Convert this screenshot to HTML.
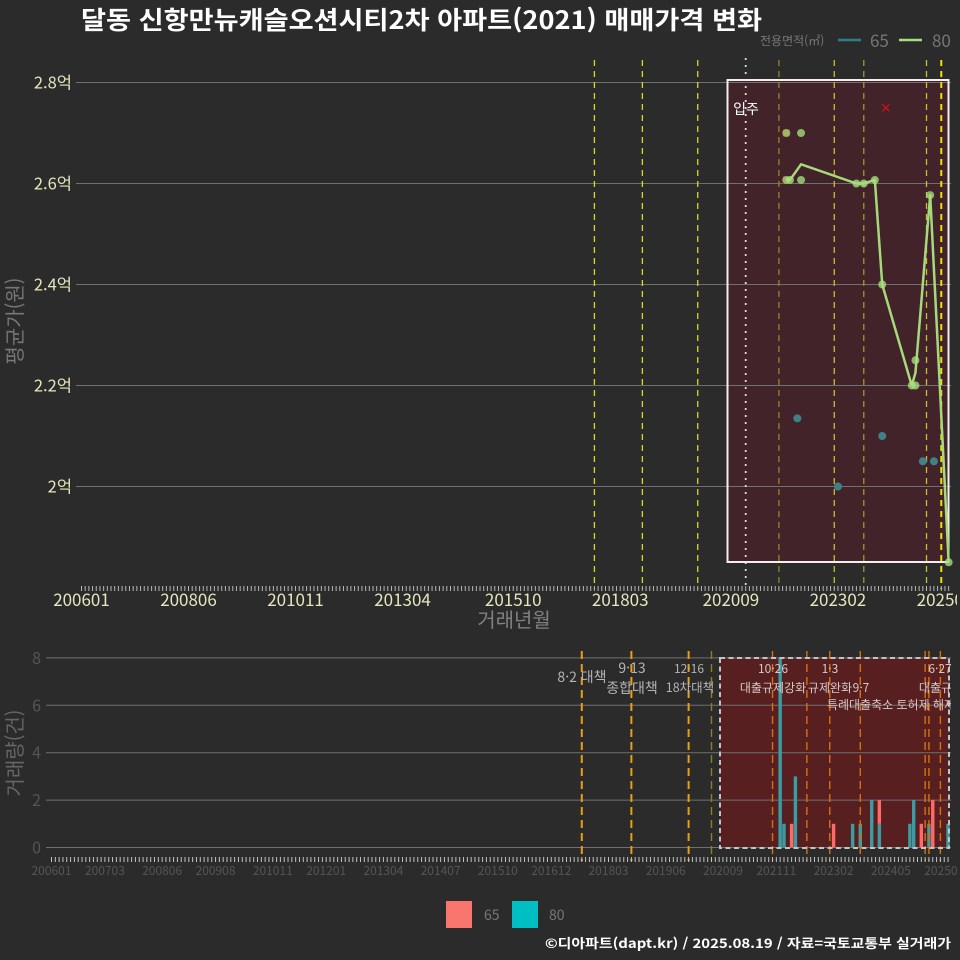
<!DOCTYPE html>
<html lang="ko">
<head>
<meta charset="utf-8">
<title>달동 신항만뉴캐슬오션시티2차 아파트(2021) 매매가격 변화</title>
<style>
html,body{margin:0;padding:0;background:#2b2b2b;}
svg{display:block;font-family:"Liberation Sans","Noto Sans CJK KR",sans-serif;}
text{font-family:"Noto Sans CJK KR","NanumGothic",sans-serif;}
</style>
</head>
<body>
<svg id="chart" xmlns="http://www.w3.org/2000/svg" width="960" height="960" viewBox="0 0 960 960">
  <defs>
    <clipPath id="lower-clip"><rect x="0" y="640" width="951" height="230"/></clipPath>
    <clipPath id="axis-clip"><rect x="0" y="570" width="957" height="320"/></clipPath>
  </defs>
  <rect x="0" y="0" width="960" height="960" fill="#2b2b2b"/>
  <text x="81" y="29" font-size="25" font-weight="700" fill="#ffffff" textLength="681" lengthAdjust="spacingAndGlyphs">달동 신항만뉴캐슬오션시티2차 아파트(2021) 매매가격 변화</text>

  <g>
    <text x="760" y="45" font-size="12" fill="#777777">전용면적(㎡)</text>
    <line x1="838" x2="861" y1="40" y2="40" stroke="#2c7f85" stroke-width="2.5"/>
    <text x="870" y="47" font-size="17" fill="#777777">65</text>
    <line x1="899" x2="922" y1="40" y2="40" stroke="#a6e07c" stroke-width="2.5"/>
    <text x="932" y="47" font-size="17" fill="#777777">80</text>
  </g>

  <rect x="727.5" y="80" width="221" height="482" fill="#412329"/>
  <rect x="720" y="658" width="229" height="190" fill="#571f20"/>

  <g id="top-grid"></g>
  <g id="bottom-grid"></g>
  <g id="top-policy"></g>
  <g id="bottom-bars"></g>
  <g id="bottom-policy"></g>

  <rect x="727.5" y="80" width="221" height="482" fill="none" stroke="#f4eeee" stroke-width="2"/>
  <rect x="720" y="658" width="229" height="190" fill="none" stroke="#c4c4c4" stroke-width="2" stroke-dasharray="5 3.5"/>

  <g id="top-marks"></g>
  <g id="top-axis" clip-path="url(#axis-clip)"></g>
  <g id="bottom-axis" clip-path="url(#axis-clip)"></g>

  <text x="746" y="114" font-size="14" fill="#ffffff" text-anchor="middle">입주</text>

  <text transform="translate(22,321) rotate(-90)" font-size="20" fill="#777777" text-anchor="middle">평균가(원)</text>
  <text x="514" y="627" font-size="20" fill="#808080" text-anchor="middle">거래년월</text>
  <text transform="translate(22,753) rotate(-90)" font-size="20" fill="#666666" text-anchor="middle">거래량(건)</text>

  <g clip-path="url(#lower-clip)" fill="#b4b4b4" text-anchor="middle">
    <text x="582" y="682" font-size="14">8·2 대책</text>
    <text x="632" y="673" font-size="14">9·13</text>
    <text x="632" y="693" font-size="14">종합대책</text>
    <text x="689" y="673" font-size="12">12·16</text>
    <text x="690" y="692" font-size="12.5">18차대책</text>
    <text x="773" y="673" font-size="12" fill="#d8c8c8">10·26</text>
    <text x="773" y="692" font-size="12" fill="#d8c8c8">대출규제강화</text>
    <text x="830" y="673" font-size="12" fill="#d8c8c8">1·3</text>
    <text x="830" y="692" font-size="12" fill="#d8c8c8">규제완화</text>
    <text x="861" y="692" font-size="12" fill="#d8c8c8">9·7</text>
    <text x="891" y="709" font-size="12" fill="#d8c8c8">특례대출축소 토허제 해제</text>
    <text x="940" y="673" font-size="12" fill="#d8c8c8">6·27</text>
    <text x="941" y="692" font-size="12" fill="#d8c8c8">대출규제</text>
  </g>

  <g>
    <rect x="446" y="901" width="26" height="27" fill="#f8766d"/>
    <text x="484" y="920" font-size="14" fill="#777777">65</text>
    <rect x="512" y="901" width="26" height="27" fill="#00bfc4"/>
    <text x="549" y="920" font-size="14" fill="#777777">80</text>
  </g>
  <text x="951" y="948" font-size="13" font-weight="700" fill="#ffffff" text-anchor="end" textLength="406" lengthAdjust="spacingAndGlyphs">©디아파트(dapt.kr) / 2025.08.19 / 자료=국토교통부 실거래가</text>
</svg>
<script>
const priceTickValues = [2.8, 2.6, 2.4, 2.2, 2.0];
const priceTickLabels = ['2.8억', '2.6억', '2.4억', '2.2억', '2억'];
const volumeTickValues = [8, 6, 4, 2, 0];
const volumeTickLabels = ['8', '6', '4', '2', '0'];
const topMonthLabels = ['200601', '200806', '201011', '201304', '201510', '201803', '202009', '202302', '202507'];
const bottomMonthLabels = ['200601', '200703', '200806', '200908', '201011', '201201', '201304', '201407', '201510', '201612', '201803', '201906', '202009', '202111', '202302', '202405', '202507'];

const points65Months = ['202203', '202302', '202402', '202501', '202504'];
const points65Prices = [2.135, 2.0, 2.10, 2.05, 2.05];
const points80Months = ['202112', '202112', '202201', '202204', '202204', '202307', '202309', '202312', '202402', '202410', '202411', '202411', '202503', '202508'];
const points80Prices = [2.70, 2.607, 2.607, 2.70, 2.607, 2.60, 2.60, 2.607, 2.40, 2.20, 2.20, 2.25, 2.577, 1.85];
const line80Months = ['202112', '202201', '202204', '202307', '202309', '202312', '202402', '202410', '202411', '202503', '202508'];
const line80Prices = [2.607, 2.607, 2.638, 2.60, 2.60, 2.607, 2.40, 2.20, 2.225, 2.577, 1.85];
const outlierMonths = ['202112', '202112', '202403'];
const outlierPrices = [2.70, 2.607, 2.75];

const bars80Months = ['202112', '202201', '202204', '202307', '202309', '202312', '202402', '202410', '202411', '202503', '202508'];
const bars80Counts = [8, 1, 3, 1, 1, 2, 1, 1, 2, 1, 1];
const bars65Months = ['202203', '202302', '202402', '202501', '202504'];
const bars65Counts = [1, 1, 1, 1, 2];

const topPolicyMonths = ['201708', '201809', '201912', '202110', '202301', '202309', '202502', '202506'];
const topPolicyColors = ['#d8d820', '#d8d820', '#d8d820', '#8f8a20', '#c8c030', '#a09a28', '#c8c030', '#eee000'];
const moveInMonth = '202101';
const bottomPolicyMonths = ['201708', '201809', '201912', '202006', '202110', '202207', '202301', '202309', '202502', '202503', '202506'];
const bottomPolicyColors = ['#e8a010', '#e8a010', '#e8a010', '#8f7f20', '#d87010', '#d87010', '#d87010', '#d87010', '#d87010', '#d87010', '#d87010'];

const SVG_NS = 'http://www.w3.org/2000/svg';
function monthIndex(ym) {
  return (Number(ym.slice(0, 4)) - 2006) * 12 + Number(ym.slice(4)) - 1;
}
function xTop(ym) { return 81.5 + monthIndex(ym) * 3.69; }
function xBottom(ym) { return 51.5 + monthIndex(ym) * 3.815; }
function yPrice(v) { return 486.5 - (v - 2) * 505; }
function yVolume(v) { return 847.5 - v * 23.7; }
function make(parent, tag, attrs, text) {
  const el = document.createElementNS(SVG_NS, tag);
  for (const k in attrs) el.setAttribute(k, attrs[k]);
  if (text !== undefined) el.textContent = text;
  parent.appendChild(el);
  return el;
}
const topGrid = document.getElementById('top-grid');
const bottomGrid = document.getElementById('bottom-grid');
const topPolicy = document.getElementById('top-policy');
const bottomPolicy = document.getElementById('bottom-policy');
const topMarks = document.getElementById('top-marks');
const bottomBars = document.getElementById('bottom-bars');
const topAxis = document.getElementById('top-axis');
const bottomAxis = document.getElementById('bottom-axis');

priceTickValues.forEach(function (v, i) {
  const y = yPrice(v);
  const grid = make(topGrid, 'line', {x1: 76, x2: 951, y1: y, y2: y, stroke: '#707070', 'stroke-width': 1});
  
  
  const label = make(topGrid, 'text', {x: 72, y: y + 6, 'font-size': 16.5, fill: '#e6e6bc', 'text-anchor': 'end'}, priceTickLabels[i]);
  
  
});

volumeTickValues.forEach(function (v, i) {
  const y = yVolume(v);
  const grid = make(bottomGrid, 'line', {x1: 46, x2: 951, y1: y, y2: y, stroke: '#707070', 'stroke-width': 1});
  
  
  const label = make(bottomGrid, 'text', {x: 41, y: y + 6, 'font-size': 16, fill: '#555555', 'text-anchor': 'end'}, volumeTickLabels[i]);
  
  
});

topPolicyMonths.forEach(function (m, i) {
  const x = xTop(m);
  const last = i === topPolicyMonths.length - 1;
  const line = make(topPolicy, 'line', {x1: x, x2: x, y1: 60, y2: 589, stroke: topPolicyColors[i], 'stroke-width': last ? 2 : 1.3, 'stroke-dasharray': '6 5'});
  
  
});
const moveInLine = make(topPolicy, 'line', {x1: xTop(moveInMonth), x2: xTop(moveInMonth), y1: 58, y2: 589, stroke: '#dcdcdc', 'stroke-width': 1.8, 'stroke-dasharray': '2 5'});



bottomPolicyMonths.forEach(function (m, i) {
  const x = xBottom(m);
  const strong = i < 3;
  const line = make(bottomPolicy, 'line', {x1: x, x2: x, y1: 651, y2: 861, stroke: bottomPolicyColors[i], 'stroke-width': strong ? 2 : 1.4, 'stroke-dasharray': '8 5'});
  
  
});

for (let i = 0; i <= 235; i++) {
  const ym = String(2006 + Math.floor(i / 12)) + String(i % 12 + 1).padStart(2, '0');
  const t1 = make(topAxis, 'line', {x1: xTop(ym), x2: xTop(ym), y1: 586, y2: 591, stroke: '#b8b8b8', 'stroke-width': 1});
  
  
  const t2 = make(bottomAxis, 'line', {x1: xBottom(ym), x2: xBottom(ym), y1: 857, y2: 862, stroke: '#c4c4c4', 'stroke-width': 1});
  
  
}
topMonthLabels.forEach(function (m) {
  const label = make(topAxis, 'text', {x: xTop(m), y: 606, 'font-size': 17, fill: '#e6e6bc', 'text-anchor': 'middle'}, m);
  
  
});
bottomMonthLabels.forEach(function (m) {
  const label = make(bottomAxis, 'text', {x: xBottom(m), y: 875, 'font-size': 12, fill: '#555555', 'text-anchor': 'middle'}, m);
  
  
});

outlierMonths.forEach(function (m, i) {
  const x = xTop(m);
  const y = yPrice(outlierPrices[i]);
  const mark = make(topMarks, 'path', {d: 'M' + (x - 3.5) + ' ' + (y - 3.5) + 'L' + (x + 3.5) + ' ' + (y + 3.5) + 'M' + (x - 3.5) + ' ' + (y + 3.5) + 'L' + (x + 3.5) + ' ' + (y - 3.5), stroke: '#e01010', 'stroke-width': 1.2, fill: 'none'});
  
  
});

const linePts = line80Months.map(function (m, i) { return xTop(m) + ',' + yPrice(line80Prices[i]); }).join(' ');
const line80 = make(topMarks, 'polyline', {points: linePts, fill: 'none', stroke: '#a6d97c', 'stroke-width': 2.5, 'stroke-linejoin': 'round'});



points65Months.forEach(function (m, i) {
  const dot = make(topMarks, 'circle', {cx: xTop(m), cy: yPrice(points65Prices[i]), r: 4, fill: '#3f8286'});
  
  
});
points80Months.forEach(function (m, i) {
  const dot = make(topMarks, 'circle', {cx: xTop(m), cy: yPrice(points80Prices[i]), r: 4, fill: '#a6e07c', 'fill-opacity': 0.78});
  
  
});

bars80Months.forEach(function (m, i) {
  const x = xBottom(m);
  const top = yVolume(bars80Counts[i]);
  const bar = make(bottomBars, 'rect', {x: x - 1.7, y: top, width: 3.4, height: yVolume(0) - top, fill: '#3b9da4'});
  
  
});
bars65Months.forEach(function (m, i) {
  const x = xBottom(m);
  const idx = bars80Months.indexOf(m);
  const base = idx >= 0 ? bars80Counts[idx] : 0;
  const start = yVolume(base);
  const stackTop = yVolume(base + bars65Counts[i]);
  const bar = make(bottomBars, 'rect', {x: x - 1.7, y: stackTop, width: 3.4, height: start - stackTop, fill: '#ff6a68'});
  
  
});
</script>
</body>
</html>
